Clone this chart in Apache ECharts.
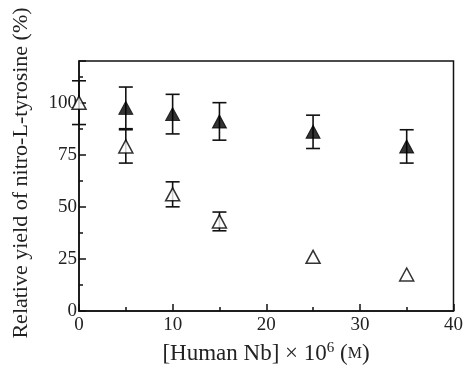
<!DOCTYPE html>
<html>
<head>
<meta charset="utf-8">
<script src="https://cdn.jsdelivr.net/npm/echarts@6/dist/echarts.min.js"></script>
<style>
  html, body { margin: 0; padding: 0; background: #fff; }
  #chart { width: 466px; height: 373px; }
</style>
</head>
<body>
<div id="chart"></div>
<script>
// values
const filledX = [5, 10, 15, 25, 35];
const filledYield = [97.5, 94.5, 91, 86, 79];
const filledErr = [10, 9.5, 9, 8, 8];

const openX = [0, 5, 10, 15, 25, 35];
const openYield = [100, 79, 56, 43, 26, 17.5];
const openErr = [10.5, 8, 6, 4.5, 0, 0];

const xTicks = [0, 10, 20, 30, 40];
const yTicks = [0, 25, 50, 75, 100];

const font = "'Liberation Serif', 'DejaVu Serif', serif";

function points(xs, ys, es) {
  return xs.map((x, i) => (es ? [x, ys[i], es[i]] : [x, ys[i]]));
}

function errorBar(params, api) {
  const x = api.value(0);
  const y = api.value(1);
  const e = api.value(2);
  if (!e) return;
  const top = api.coord([x, y + e]);
  const bot = api.coord([x, y - e]);
  const half = 7;
  const style = { stroke: "#111", lineWidth: 1.6 };
  return {
    type: "group",
    children: [
      { type: "line", shape: { x1: top[0], y1: top[1], x2: bot[0], y2: bot[1] }, style: style },
      { type: "line", shape: { x1: top[0] - half, y1: top[1], x2: top[0] + half, y2: top[1] }, style: style },
      { type: "line", shape: { x1: bot[0] - half, y1: bot[1], x2: bot[0] + half, y2: bot[1] }, style: style },
    ],
  };
}

const chart = echarts.init(document.getElementById("chart"));

chart.setOption({
  animation: false,
  backgroundColor: "#fff",
  grid: {
    left: 79,
    right: 11,
    top: 61,
    bottom: 62,
    show: true,
    borderColor: "#111",
    borderWidth: 1.5,
  },
  xAxis: {
    type: "value",
    min: 0,
    max: 40,
    interval: 10,
    axisLine: { lineStyle: { color: "#111", width: 1.5 } },
    axisTick: { inside: true, length: 7, lineStyle: { color: "#111", width: 1.5 } },
    minorTick: { show: true, splitNumber: 2, length: 4, lineStyle: { color: "#111", width: 1.5 } },
    splitLine: { show: false },
    axisLabel: {
      margin: 5,
      color: "#222",
      fontFamily: font,
      fontSize: 19,
      formatter: (v) => (xTicks.includes(v) ? String(v) : ""),
    },
  },
  yAxis: [
    {
      type: "value",
      min: 0,
      max: 120,
      interval: 25,
      axisLine: { show: true, lineStyle: { color: "#111", width: 1.5 } },
      axisTick: { inside: true, length: 7, lineStyle: { color: "#111", width: 1.5 } },
      splitLine: { show: false },
      axisLabel: {
        margin: 2,
        color: "#222",
        fontFamily: font,
        fontSize: 19,
        formatter: (v) => (yTicks.includes(v) ? String(v) : ""),
      },
    },
    {
      // minor ticks every 12.5
      type: "value",
      position: "left",
      min: 0,
      max: 120,
      interval: 12.5,
      axisLine: { show: false },
      axisTick: { inside: true, length: 4, lineStyle: { color: "#111", width: 1.5 } },
      splitLine: { show: false },
      axisLabel: { show: false },
    },
  ],
  graphic: [
    {
      type: "text",
      x: 21,
      y: 173,
      rotation: Math.PI / 2,
      style: {
        text: "Relative yield of nitro-L-tyrosine (%)",
        font: "22px " + font,
        fill: "#222",
        align: "center",
        verticalAlign: "middle",
      },
    },
    {
      type: "text",
      x: 266,
      y: 354,
      style: {
        text: "[Human Nb] × 10{sup|6} ({sc|M})",
        font: "23px " + font,
        fill: "#222",
        align: "center",
        verticalAlign: "middle",
        rich: {
          sup: { fontSize: 15, fontFamily: font, fill: "#222", padding: [0, 0, 11, 0] },
          sc: { fontSize: 16, fontFamily: font, fill: "#222" },
        },
      },
    },
  ],
  series: [
    {
      type: "custom",
      name: "filled err",
      renderItem: errorBar,
      clip: false,
      z: 1,
      data: points(filledX, filledYield, filledErr),
    },
    {
      type: "custom",
      name: "open err",
      renderItem: errorBar,
      clip: false,
      z: 1,
      data: points(openX, openYield, openErr),
    },
    {
      type: "scatter",
      name: "filled",
      symbol: "triangle",
      symbolSize: [14, 13],
      clip: false,
      z: 3,
      itemStyle: { color: "#000", borderColor: "#000", borderWidth: 1 },
      data: points(filledX, filledYield),
    },
    {
      type: "scatter",
      name: "open",
      symbol: "triangle",
      symbolSize: [14, 13],
      clip: false,
      z: 3,
      itemStyle: { color: "#fff", borderColor: "#000", borderWidth: 1.5 },
      data: points(openX, openYield),
    },
  ],
});
</script>
</body>
</html>
